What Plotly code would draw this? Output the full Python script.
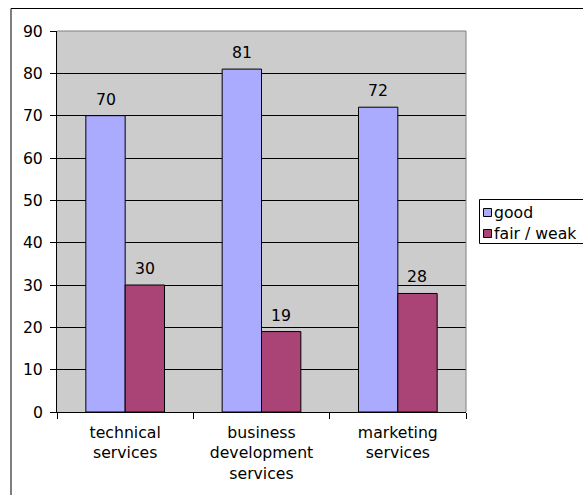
import plotly.graph_objects as go

categories = ["technical<br>services", "business<br>development<br>services", "marketing<br>services"]
good = [70, 81, 72]
fair_weak = [30, 19, 28]
series_names = ["good", "fair / weak"]
series_colors = ["#AAAAFF", "#AA4477"]

W, H = 583, 495
ml, mt, mb = 57, 31, 83
plot_right = 466
pw_paper = W - ml
plot_w = plot_right - ml
ph = H - mt - mb
bargap = 0.423

def px_x(x):
    return (x - ml) / pw_paper

def px_y(y):
    return 1 - (y - mt) / ph

FS = 15.7
font = dict(family="DejaVu Sans", size=FS, color="black")

fig = go.Figure()
cat_w = plot_w / len(categories)
bar_w = cat_w * (1 - bargap) / 2
annotations = []
for i, (name, vals, col) in enumerate([(series_names[0], good, series_colors[0]),
                                       (series_names[1], fair_weak, series_colors[1])]):
    fig.add_trace(go.Bar(x=categories, y=vals, name=name,
                         marker=dict(color=col, line=dict(color="black", width=1))))
    shift = (i - 0.5) * bar_w
    for c, v in zip(categories, vals):
        annotations.append(dict(x=c, y=v, xref="x", yref="y", text=str(v),
                                showarrow=False, xanchor="center", yanchor="bottom",
                                xshift=shift, yshift=5, font=font))

shapes = [
    dict(type="rect", xref="paper", yref="paper",
         x0=px_x(11), x1=px_x(W + 20), y0=px_y(H + 20), y1=px_y(8.5),
         line=dict(color="black", width=1), fillcolor="rgba(0,0,0,0)", layer="below"),
    dict(type="line", xref="x domain", yref="paper", x0=0, x1=1, y0=1, y1=1,
         line=dict(color="#808080", width=1), layer="above"),
    dict(type="line", xref="x domain", yref="paper", x0=1, x1=1, y0=0, y1=1,
         line=dict(color="#808080", width=1), layer="above"),
    dict(type="rect", xref="paper", yref="paper",
         x0=px_x(479.5), x1=px_x(W + 20), y0=px_y(243.5), y1=px_y(199.5),
         line=dict(color="black", width=1), fillcolor="white", layer="above"),
]
legend_centers = [212.5, 233.5]
for name, col, cy in zip(series_names, series_colors, legend_centers):
    shapes.append(dict(type="rect", xref="paper", yref="paper",
                       x0=px_x(483.5), x1=px_x(491.5), y0=px_y(cy + 4), y1=px_y(cy - 4),
                       line=dict(color="black", width=1), fillcolor=col, layer="above"))
    annotations.append(dict(text=name, xref="paper", yref="paper",
                            x=px_x(492), y=px_y(cy), xanchor="left", yanchor="middle",
                            showarrow=False, font=font))

fig.update_layout(
    width=W, height=H,
    margin=dict(l=ml, r=0, t=mt, b=mb),
    paper_bgcolor="white", plot_bgcolor="#CCCCCC",
    font=font,
    barmode="group", bargap=bargap, bargroupgap=0,
    showlegend=False,
    xaxis=dict(domain=[0, plot_w / pw_paper],
               showline=True, linecolor="black", linewidth=1, ticks="outside",
               tickson="boundaries", ticklen=6, tickcolor="black", showgrid=False,
               tickfont=font, ticklabelstandoff=6),
    yaxis=dict(range=[0, 90], dtick=10, showline=True, linecolor="black", linewidth=1,
               ticks="outside", ticklen=6, tickcolor="black", showgrid=True,
               gridcolor="black", gridwidth=1, zeroline=False, tickfont=font,
               ticklabelstandoff=4),
    shapes=shapes,
    annotations=annotations,
)

fig.write_html("out.html")
